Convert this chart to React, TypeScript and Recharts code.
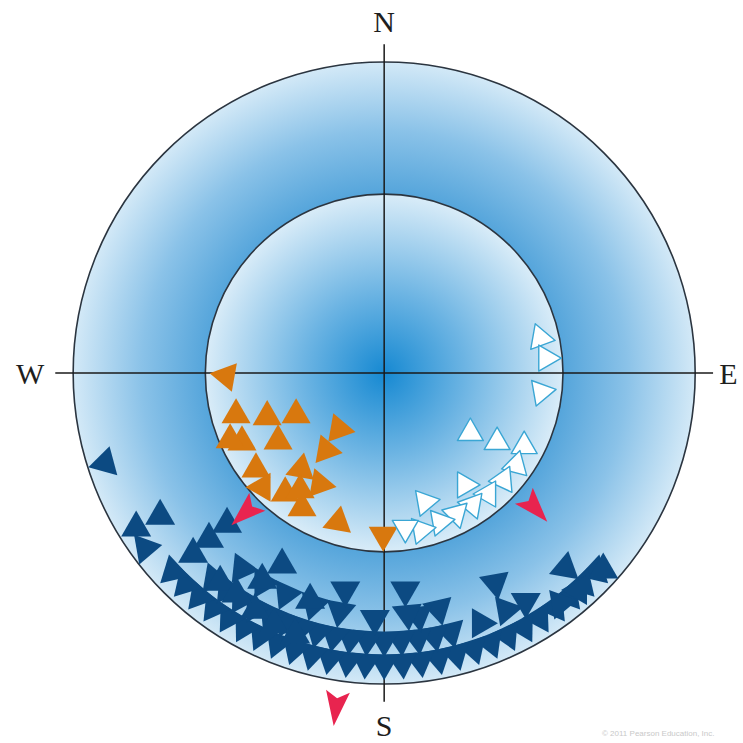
import React from 'react';
import { ScatterChart, Scatter, XAxis, YAxis, ReferenceArea, ReferenceLine } from 'recharts';

// Stereonet plot: positions are in percent of the primitive circle radius
// (x east, y north); rot is the bearing the marker tip points to (deg, clockwise from N).
type Mark = { x: number; y: number; rot: number };
const toMarks = (rows: number[][]): Mark[] => rows.map(([x, y, rot]) => ({ x, y, rot }));

const PRIMITIVE = 100;
const INNER = 57.5;
const AXIS_REACH = 105.7;

// dark blue poles, outer rim row
const navyRimRow = [
  [67.9, -63.8, 133], [63.8, -67.9, 137], [59.4, -71.8, 140], [54.8, -75.4, 144],
  [49.9, -78.7, 148], [44.9, -81.7, 151], [39.7, -84.3, 155], [34.3, -86.7, 158],
  [28.8, -88.6, 162], [23.2, -90.3, 166], [17.5, -91.6, 169], [11.7, -92.5, 173],
  [5.9, -93.0, 176], [0, -93.2, 180], [-5.9, -93.0, 184], [-11.7, -92.5, 187],
  [-17.5, -91.6, 191], [-23.2, -90.3, 194], [-28.8, -88.6, 198], [-34.3, -86.7, 202],
  [-39.7, -84.3, 205], [-44.9, -81.7, 209], [-49.9, -78.7, 212], [-54.8, -75.4, 216],
  [-59.4, -71.8, 220], [-63.8, -67.9, 223], [-67.9, -63.8, 227],
];

// dark blue poles, second row
const navyMidRow = [
  [21.4, -83.2, 166], [16.1, -84.4, 169], [10.8, -85.2, 173], [5.4, -85.7, 176],
  [0, -85.9, 180], [-5.4, -85.7, 184], [-10.8, -85.2, 187], [-16.1, -84.4, 191],
  [-21.4, -83.2, 194], [-26.5, -81.7, 198], [-31.6, -79.9, 202], [-36.6, -77.7, 205],
  [-41.4, -75.3, 209], [-46.0, -72.5, 212], [-50.5, -69.5, 216], [-54.8, -66.2, 220],
];

// dark blue poles, third row
const navyInnerRow = [
  [17.5, -75.8, 167], [11.0, -78.0, 172], [7.5, -77.4, 175], [-3.0, -79.0, 180],
  [-14.2, -76.5, 190], [-22.7, -74.4, 197], [-31.6, -71.1, 204], [-38.9, -67.4, 210],
  [-45.7, -62.9, 216],
];

// dark blue poles, scattered
const navyScattered = [
  [-12.5, -69.8, 180], [6.8, -69.8, 180], [-23.8, -73.0, 0], [-32.8, -61.7, 0],
  [-39.2, -66.6, 0], [-89.7, -28.9, 15], [-79.7, -49.8, 0], [-72.0, -46.0, 0],
  [-76.8, -56.3, 200], [-50.5, -48.6, 0], [-56.3, -53.4, 0], [-61.4, -58.2, 0],
  [-52.7, -67.2, 0], [35.7, -67.5, 290], [39.2, -76.2, 320], [58.2, -62.7, 10],
  [70.4, -63.3, 0], [62.4, -69.8, 150], [56.6, -74.0, 200],
  [-41.5, -76.2, 0], [-35.4, -81.0, 0], [-28.6, -84.2, 0], [-47.5, -71.0, 0],
  [31.0, -80.5, 330], [45.5, -73.5, 300],
];

const orangePoles = [
  [-50.8, -1.0, 280], [-47.6, -13.5, 0], [-37.6, -14.1, 0], [-28.3, -13.5, 0],
  [-14.5, -18.0, 100], [-45.7, -22.2, 0], [-34.1, -21.9, 0], [-18.6, -24.8, 100],
  [-41.2, -30.9, 0], [-26.7, -30.9, 10], [-20.6, -35.7, 100], [-31.8, -38.6, 0],
  [-26.4, -43.4, 120], [-14.8, -47.9, 130], [-0.3, -52.1, 180],
  [-49.5, -21.5, 0], [-39.2, -36.7, 30], [-27.0, -37.6, 0],
];

const whitePoles = [
  [50.2, 11.3, 100], [52.1, 4.8, 90], [50.5, -6.1, 80], [27.7, -19.3, 0],
  [36.3, -22.2, 0], [45.0, -23.5, 0], [42.4, -29.6, 15], [38.3, -34.4, 25],
  [33.4, -38.9, 30], [26.0, -36.0, 330], [28.3, -42.4, 40], [23.2, -45.3, 45],
  [18.0, -47.9, 200], [13.2, -41.5, 200], [11.9, -50.5, 200], [6.8, -49.8, 180],
];

const redAxes = [
  [-44.1, -44.4, 228], [47.9, -42.8, 138], [-15.4, -106.8, 187],
];

const compassLabels = [
  { label: 'N', x: 0, y: 112.9 },
  { label: 'S', x: 0, y: -113.2 },
  { label: 'W', x: -113.8, y: 0 },
  { label: 'E', x: 110.6, y: 0 },
];

const NAVY = '#0c4a82';
const ORANGE = '#d8780e';
const RED = '#e8244f';

const triangleShape = (side: number, fill: string, stroke?: string) => (props: any) => {
  const { cx, cy, payload } = props;
  if (cx == null || cy == null) return <g />;
  const h = (side * Math.sqrt(3)) / 2;
  const d = `M0,${(-2 * h) / 3} L${side / 2},${h / 3} L${-side / 2},${h / 3} Z`;
  return (
    <path
      d={d}
      transform={`translate(${cx},${cy}) rotate(${payload.rot})`}
      fill={fill}
      stroke={stroke ?? 'none'}
      strokeWidth={stroke ? 1.4 : 0}
      strokeLinejoin="round"
    />
  );
};

const arrowShape = (props: any) => {
  const { cx, cy, payload } = props;
  if (cx == null || cy == null) return <g />;
  return (
    <path
      d="M0,-21 L12,14 L0,7 L-12,14 Z"
      transform={`translate(${cx},${cy}) rotate(${payload.rot})`}
      fill={RED}
    />
  );
};

const labelShape = (props: any) => {
  const { cx, cy, payload } = props;
  if (cx == null || cy == null) return <g />;
  return (
    <text
      x={cx}
      y={cy}
      textAnchor="middle"
      dominantBaseline="central"
      fontFamily="'Liberation Serif', 'DejaVu Serif', serif"
      fontSize={30}
      fill="#1e1e1e"
    >
      {payload.label}
    </text>
  );
};

const discShape = (id: string, stops: [number, string][]) => (props: any) => {
  const { x, y, width, height } = props;
  const w = Math.abs(width);
  const h = Math.abs(height);
  const cx = Math.min(x, x + width) + w / 2;
  const cy = Math.min(y, y + height) + h / 2;
  const r = Math.min(w, h) / 2;
  return (
    <g>
      <defs>
        <radialGradient id={id} cx="50%" cy="50%" r="50%">
          {stops.map(([o, c]) => (
            <stop key={o} offset={o} stopColor={c} />
          ))}
        </radialGradient>
      </defs>
      <circle cx={cx} cy={cy} r={r} fill={`url(#${id})`} stroke="#2b3540" strokeWidth={1.6} />
    </g>
  );
};

export default function App() {
  return (
    <div style={{ position: 'absolute', left: 0, top: 0, width: 743, height: 743, background: '#fff' }}>
      <ScatterChart width={743} height={743} margin={{ top: 6, right: 1, bottom: 3, left: 17 }}>
        <XAxis type="number" dataKey="x" domain={[-118, 115]} hide />
        <YAxis type="number" dataKey="y" domain={[-118, 118]} hide />
        <ReferenceArea
          x1={-PRIMITIVE}
          x2={PRIMITIVE}
          y1={-PRIMITIVE}
          y2={PRIMITIVE}
          ifOverflow="visible"
          shape={discShape('ringFill', [
            [0, '#55a5db'],
            [0.575, '#55a5db'],
            [0.78, '#8ac2e8'],
            [1, '#d3e9f7'],
          ])}
        />
        <ReferenceArea
          x1={-INNER}
          x2={INNER}
          y1={-INNER}
          y2={INNER}
          ifOverflow="visible"
          shape={discShape('coreFill', [
            [0, '#1689d2'],
            [0.45, '#6cb4e3'],
            [1, '#d9ecf8'],
          ])}
        />
        <Scatter data={toMarks(navyRimRow)} shape={triangleShape(30, NAVY)} isAnimationActive={false} />
        <Scatter data={toMarks(navyMidRow)} shape={triangleShape(30, NAVY)} isAnimationActive={false} />
        <Scatter data={toMarks(navyInnerRow)} shape={triangleShape(30, NAVY)} isAnimationActive={false} />
        <Scatter data={toMarks(navyScattered)} shape={triangleShape(30, NAVY)} isAnimationActive={false} />
        <Scatter data={toMarks(orangePoles)} shape={triangleShape(29, ORANGE)} isAnimationActive={false} />
        <Scatter data={toMarks(whitePoles)} shape={triangleShape(26, '#ffffff', '#3aa6d4')} isAnimationActive={false} />
        <Scatter data={toMarks(redAxes)} shape={arrowShape} isAnimationActive={false} />
        <ReferenceLine
          segment={[{ x: 0, y: -AXIS_REACH }, { x: 0, y: AXIS_REACH }]}
          stroke="#1a1a1a"
          strokeWidth={1.5}
          ifOverflow="visible"
        />
        <ReferenceLine
          segment={[{ x: -AXIS_REACH, y: 0 }, { x: AXIS_REACH, y: 0 }]}
          stroke="#1a1a1a"
          strokeWidth={1.5}
          ifOverflow="visible"
        />
        <Scatter data={compassLabels} shape={labelShape} isAnimationActive={false} />
      </ScatterChart>
      <div
        style={{
          position: 'absolute',
          left: 602,
          top: 729,
          fontFamily: 'Arial, sans-serif',
          fontSize: 8,
          color: '#c9c9c9',
          whiteSpace: 'nowrap',
        }}
      >
        © 2011 Pearson Education, Inc.
      </div>
    </div>
  );
}
